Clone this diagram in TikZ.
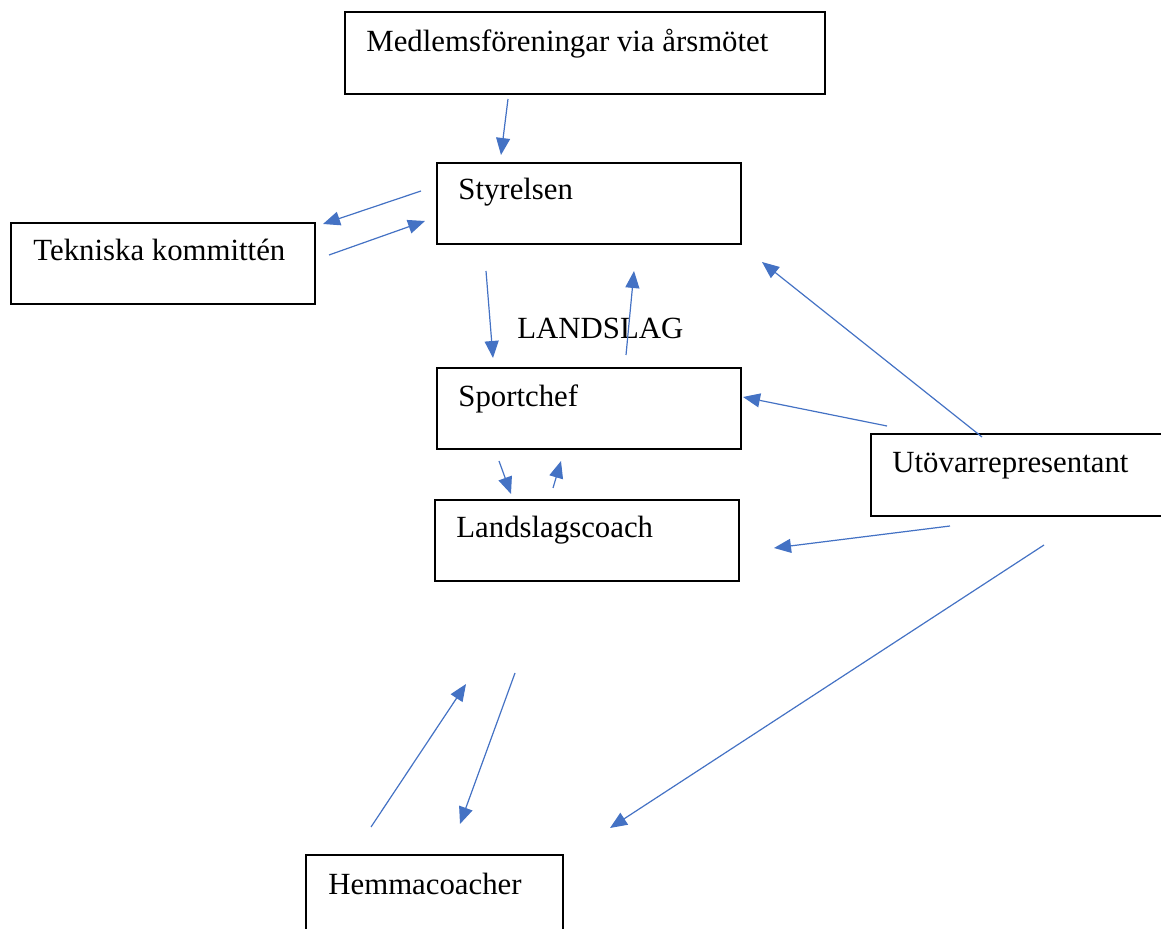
\documentclass[tikz,border=0pt]{standalone}
\usepackage{fontspec}
\setmainfont{Liberation Serif}
\usetikzlibrary{arrows.meta, positioning}

\definecolor{linkblue}{HTML}{4472C4}

\begin{document}
\begin{tikzpicture}[x=0.5pt, y=-0.5pt,
    orgbox/.style={draw, line width=1pt, anchor=north west, inner sep=0pt, outer sep=0pt},
    boxtext/.style={anchor=base west, inner sep=0pt, font=\fontsize{15.4}{18}\selectfont},
    link/.style={-{Triangle[length=8.5pt, width=7pt]}, linkblue, line width=0.6pt}]
    \useasboundingbox (0,0) rectangle (1161,929);

    % boxes
    \node[orgbox, minimum width=240pt, minimum height=41pt] (medl) at (345,12) {};
    \node[orgbox, minimum width=152pt, minimum height=40.5pt] (styr) at (437,163) {};
    \node[orgbox, minimum width=152pt, minimum height=40.5pt] (tekn) at (11,223) {};
    \node[orgbox, minimum width=152pt, minimum height=40.5pt] (sport) at (437,368) {};
    \node[orgbox, minimum width=152pt, minimum height=40.5pt] (coach) at (435,500) {};
    \node[orgbox, minimum width=160pt, minimum height=41pt] (utov) at (871,434) {};
    \node[orgbox, minimum width=128.5pt, minimum height=50pt] (hemma) at (306,855) {};

    % texts
    \node[boxtext] (medl-t) at (366,52) {Medlemsföreningar via årsmötet};
    \node[boxtext] (styr-t) at (458,200) {Styrelsen};
    \node[boxtext] (tekn-t) at (33,261) {Tekniska kommittén};
    \node[boxtext] (sport-t) at (458,407) {Sportchef};
    \node[boxtext] (coach-t) at (456,538) {Landslagscoach};
    \node[boxtext] (utov-t) at (892,473) {Utövarrepresentant};
    \node[boxtext] (hemma-t) at (328,894) {Hemmacoacher};
    \node[boxtext] (landslag) at (517,339) {LANDSLAG};

    % arrow ends
    \coordinate (m1) at (508,99);   \coordinate (s1) at (501,155);
    \coordinate (s2) at (421,191);  \coordinate (t1) at (323,224);
    \coordinate (t2) at (329,255);  \coordinate (s3) at (425,221);
    \coordinate (s4) at (486,271);  \coordinate (p1) at (493,358);
    \coordinate (p2) at (626,355);  \coordinate (s5) at (634,271);
    \coordinate (p3) at (499,461);  \coordinate (c1) at (511,494);
    \coordinate (c2) at (553,488);  \coordinate (p4) at (561,461);
    \coordinate (u1) at (887,426);  \coordinate (p5) at (743,397);
    \coordinate (u2) at (982,437);  \coordinate (s6) at (762,262);
    \coordinate (u3) at (950,526);  \coordinate (c3) at (774,548);
    \coordinate (u4) at (1044,545); \coordinate (h1) at (610,828);
    \coordinate (h2) at (371,827);  \coordinate (c4) at (466,684);
    \coordinate (c5) at (515,673);  \coordinate (h3) at (460,824);

    % links
    \draw[link] (m1) -- (s1);
    \draw[link] (s2) -- (t1);
    \draw[link] (t2) -- (s3);
    \draw[link] (s4) -- (p1);
    \draw[link] (p2) -- (s5);
    \draw[link] (p3) -- (c1);
    \draw[link] (c2) -- (p4);
    \draw[link] (u1) -- (p5);
    \draw[link] (u2) -- (s6);
    \draw[link] (u3) -- (c3);
    \draw[link] (u4) -- (h1);
    \draw[link] (h2) -- (c4);
    \draw[link] (c5) -- (h3);
\end{tikzpicture}
\end{document}
